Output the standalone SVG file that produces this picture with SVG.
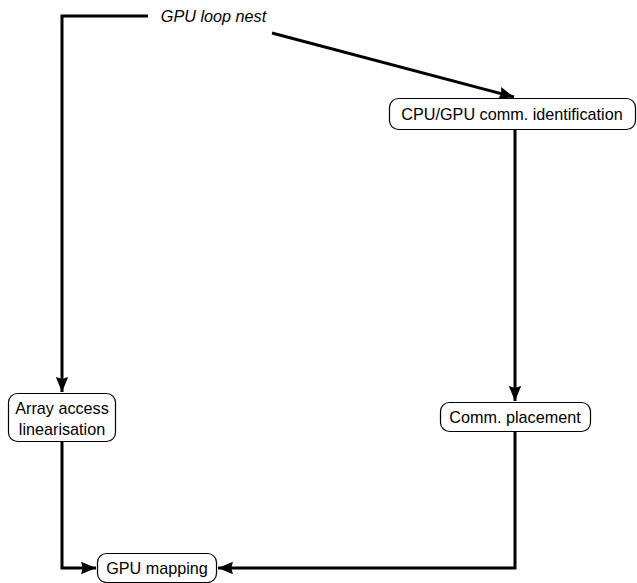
<svg xmlns="http://www.w3.org/2000/svg" width="637" height="583" viewBox="0 0 637 583">
<defs>
<marker id="ah" viewBox="0 0 12 10" refX="12" refY="5" markerWidth="5" markerHeight="4.2" orient="auto" markerUnits="strokeWidth">
<path d="M0,0 L12,5 L0,10 L1.5,5 z" fill="#000"/>
</marker>
<style>
.n rect{fill:#fff;stroke:#000;stroke-width:1.2}
.n text, .lbl{font-family:"Liberation Sans","DejaVu Sans",sans-serif;font-size:16.2px;fill:#000;text-anchor:middle}
.e{fill:none;stroke:#000;stroke-width:3}
</style>
</defs>
<rect width="637" height="583" fill="#fff"/>
<g id="connectors">
<path class="e" d="M148,16 H62 V392" marker-end="url(#ah)"/>
<path class="e" d="M272,33 L514,97" marker-end="url(#ah)"/>
<path class="e" d="M515,130 V401" marker-end="url(#ah)"/>
<path class="e" d="M515,431 V568 H218" marker-end="url(#ah)"/>
<path class="e" d="M62,442 V568 H96" marker-end="url(#ah)"/>
</g>
<g id="n0">
<text class="lbl" x="213.5" y="22" font-style="italic" font-size="16.2">GPU loop nest</text>
</g>
<g id="n1" class="n">
<rect x="389.5" y="98.5" width="246" height="31" rx="9"/>
<text x="512" y="120">CPU/GPU comm. identification</text>
</g>
<g id="n2" class="n">
<rect x="8.5" y="393.5" width="107" height="48" rx="9"/>
<text x="62" y="414">Array access</text>
<text x="62" y="435">linearisation</text>
</g>
<g id="n3" class="n">
<rect x="440.5" y="402.5" width="150" height="29" rx="9"/>
<text x="515" y="423">Comm. placement</text>
</g>
<g id="n4" class="n">
<rect x="97.5" y="553.5" width="119" height="29" rx="9"/>
<text x="157" y="574">GPU mapping</text>
</g>
</svg>
